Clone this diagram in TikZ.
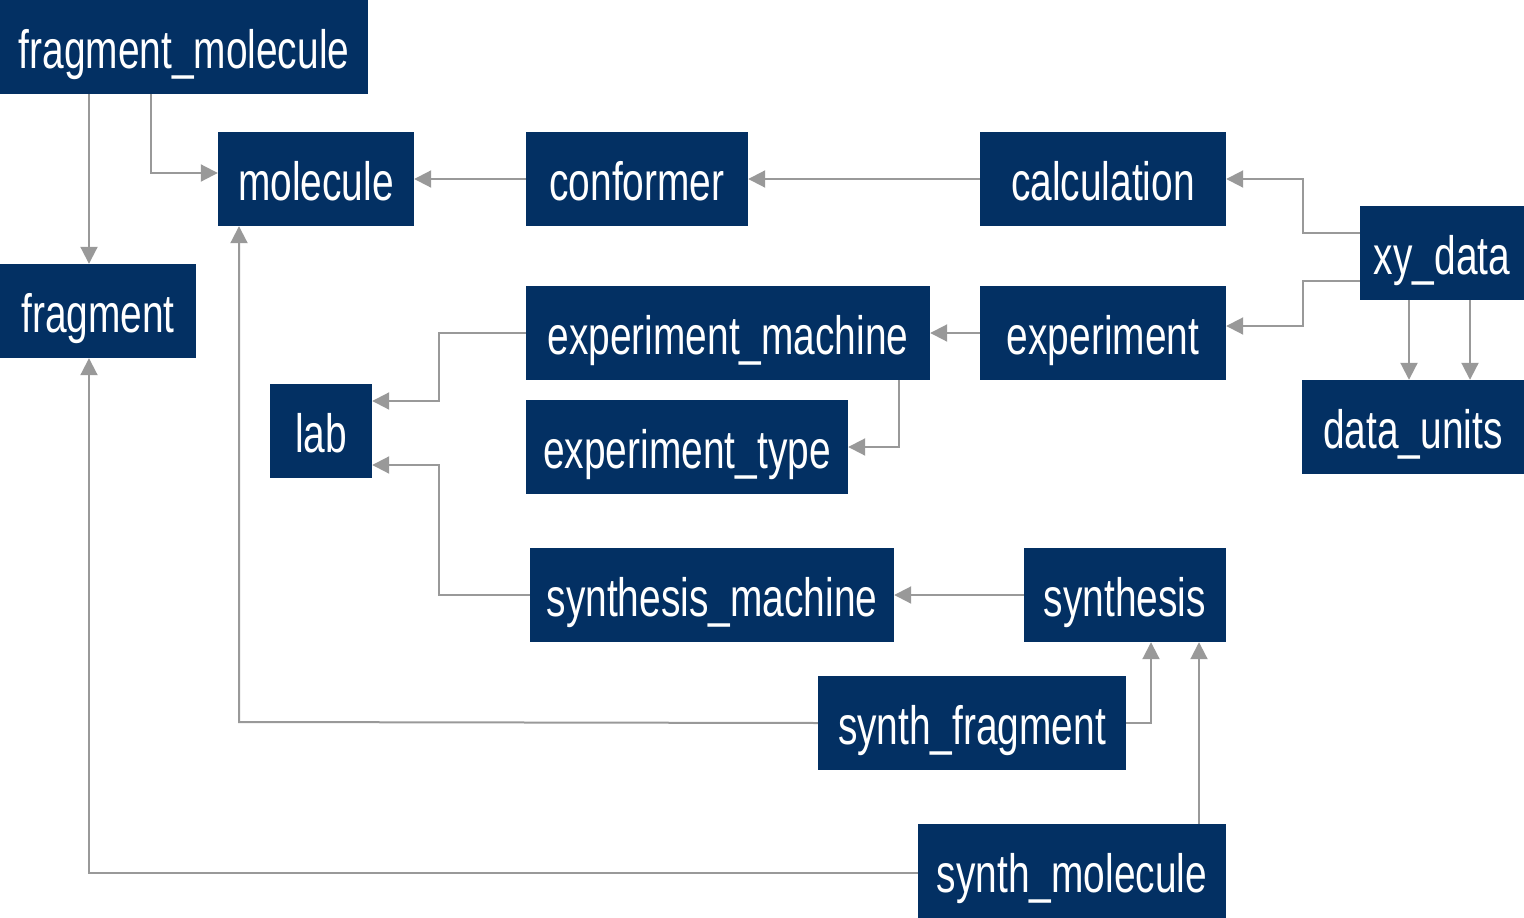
\documentclass[tikz,border=0pt]{standalone}
\usepackage{fontspec}
\setmainfont{Liberation Sans}[FakeStretch=0.72]
\usetikzlibrary{arrows.meta}
\definecolor{navy}{HTML}{033063}
\definecolor{linegray}{HTML}{999999}
\tikzset{
  box/.style={fill=navy, text=white, inner sep=0pt, minimum height=94pt,
    text height=52pt, text depth=10pt,
    font=\fontsize{54}{60}\selectfont, anchor=center},
  conn/.style={draw=linegray, line width=2pt,
    -{Triangle[length=17pt,width=17pt]}},
}
\begin{document}
\begin{tikzpicture}[x=1pt,y=-1pt]
\useasboundingbox (0,0) rectangle (1524,918);
\node[box, minimum width=368pt] (fm) at (184,47) {fragment\_molecule};
\node[box, minimum width=196pt] (mol) at (316,179) {molecule};
\node[box, minimum width=222pt] (conf) at (637,179) {conformer};
\node[box, minimum width=246pt] (calc) at (1103,179) {calculation};
\node[box, minimum width=164pt] (xy) at (1442,253) {xy\_data};
\node[box, minimum width=196pt] (frag) at (98,311) {fragment};
\node[box, minimum width=404pt] (em) at (728,333) {experiment\_machine};
\node[box, minimum width=246pt] (exp) at (1103,333) {experiment};
\node[box, minimum width=222pt] (du) at (1413,427) {data\_units};
\node[box, minimum width=102pt] (lab) at (321,431) {lab};
\node[box, minimum width=322pt] (et) at (687,447) {experiment\_type};
\node[box, minimum width=364pt] (sm) at (712,595) {synthesis\_machine};
\node[box, minimum width=202pt] (syn) at (1125,595) {synthesis};
\node[box, minimum width=308pt] (sf) at (972,723) {synth\_fragment};
\node[box, minimum width=308pt] (smol) at (1072,871) {synth\_molecule};

\draw[conn] (fm.south -| 89,0) -- (frag.north -| 89,0);
\draw[conn] (fm.south -| 151,0) |- (mol.west |- 0,173);
\draw[conn] (conf.west) -- (mol.east);
\draw[conn] (calc.west) -- (conf.east);
\draw[conn] (xy.west |- 0,233) -| (1303,179) -- (calc.east |- 0,179);
\draw[conn] (xy.west |- 0,281) -| (1303,326) -- (exp.east |- 0,326);
\draw[conn] (xy.south -| 1409,0) -- (du.north -| 1409,0);
\draw[conn] (xy.south -| 1470,0) -- (du.north -| 1470,0);
\draw[conn] (exp.west) -- (em.east);
\draw[conn] (em.west) -| (439,401) -- (lab.east |- 0,401);
\draw[conn] (em.south -| 899,0) |- (et.east);
\draw[conn] (sm.west) -| (439,465) -- (lab.east |- 0,465);
\draw[conn] (syn.west) -- (sm.east);
\draw[conn] (sf.west) -- (239,722) -- (mol.south -| 239,0);
\draw[conn] (sf.east) -| (syn.south -| 1151,0);
\draw[conn] (smol.north -| 1199,0) -- (syn.south -| 1199,0);
\draw[conn] (smol.west |- 0,873) -| (frag.south -| 89,0);
\end{tikzpicture}
\end{document}
